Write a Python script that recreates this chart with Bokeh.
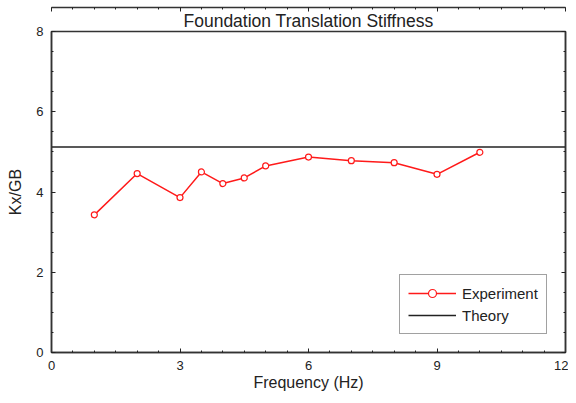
from bokeh.plotting import figure
from bokeh.models import (LinearAxis, Legend, LegendItem, Range1d, Title, FixedTicker,
                          CustomJSTickFormatter)
from bokeh.embed import file_html
from bokeh.resources import INLINE

freq = [1, 2, 3, 3.5, 4, 4.5, 5, 6, 7, 8, 9, 10]
kx_exp = [3.43, 4.46, 3.86, 4.50, 4.21, 4.35, 4.65, 4.87, 4.78, 4.73, 4.44, 4.99]
theory_freq = [0, 12]
theory_k = [5.12, 5.12]
x_ticks = [0, 3, 6, 9, 12]
y_ticks = [0, 2, 4, 6, 8]

FONT = "Liberation Sans"

p = figure(width=568, height=395, output_backend="svg", toolbar_location=None,
           x_range=Range1d(0, 12), y_range=Range1d(0, 8),
           min_border_left=51, min_border_right=3, min_border_top=31, min_border_bottom=43)
p.title = None
t = Title(text="Foundation Translation Stiffness", align="center", text_font=FONT,
          text_font_size="17.5px", text_font_style="normal", text_color="#222222",
          standoff=2)
p.add_layout(t, "above")

p.xgrid.visible = False
p.ygrid.visible = False
p.outline_line_color = "#333333"
p.outline_line_width = 1.5
p.background_fill_color = "white"
p.border_fill_color = "white"

def style(ax):
    ax.axis_line_color = "#333333"
    ax.axis_line_width = 1.5
    ax.major_tick_in = 4
    ax.major_tick_out = 0
    ax.minor_tick_in = 2
    ax.minor_tick_out = 0
    ax.major_tick_line_color = "#222222"
    ax.minor_tick_line_color = "#222222"
    ax.major_label_text_font = FONT
    ax.major_label_text_font_size = "13px"
    ax.major_label_text_color = "#222222"

xt = FixedTicker(ticks=x_ticks, minor_ticks=[i * 0.5 for i in range(25)])
yt = FixedTicker(ticks=y_ticks, minor_ticks=[i * 0.5 for i in range(17)])

p.xaxis.ticker = xt
p.yaxis.ticker = yt
for ax in p.xaxis + p.yaxis:
    style(ax)
p.xaxis.axis_label = "Frequency (Hz)"
p.yaxis.axis_label = "Kx/GB"
for ax in p.xaxis + p.yaxis:
    ax.axis_label_text_font = FONT
    ax.axis_label_text_font_size = "16px"
    ax.axis_label_text_font_style = "normal"
    ax.axis_label_text_color = "#222222"
p.xaxis.major_label_standoff = 8
p.xaxis.axis_label_standoff = 1
p.yaxis.major_label_standoff = 8
p.yaxis.axis_label_standoff = 9

blank = CustomJSTickFormatter(code="return ''")
top = LinearAxis(ticker=xt, formatter=blank, major_label_standoff=0)
right = LinearAxis(ticker=yt, formatter=blank, major_label_standoff=0)
style(top)
style(right)
p.add_layout(top, "above")
p.add_layout(right, "right")

th = p.line(theory_freq, theory_k, line_color="#222222", line_width=1.5)
el = p.line(freq, kx_exp, line_color="#ff1a1a", line_width=1.5)
ec = p.scatter(freq, kx_exp, marker="circle", size=6, line_color="#ff1a1a",
               fill_color="white", line_width=1.2)

legend = Legend(items=[LegendItem(label="Experiment", renderers=[el, ec]),
                       LegendItem(label="Theory", renderers=[th])],
                location=(348, 18), label_text_font=FONT, label_text_font_size="15px",
                label_text_color="#222222", border_line_color="#444444",
                border_line_width=1.5, glyph_width=48, glyph_height=20,
                padding=8, spacing=2, margin=0, label_standoff=6,
                background_fill_alpha=1)
p.add_layout(legend, "center")

open("out.html", "w").write(file_html(p, INLINE))
